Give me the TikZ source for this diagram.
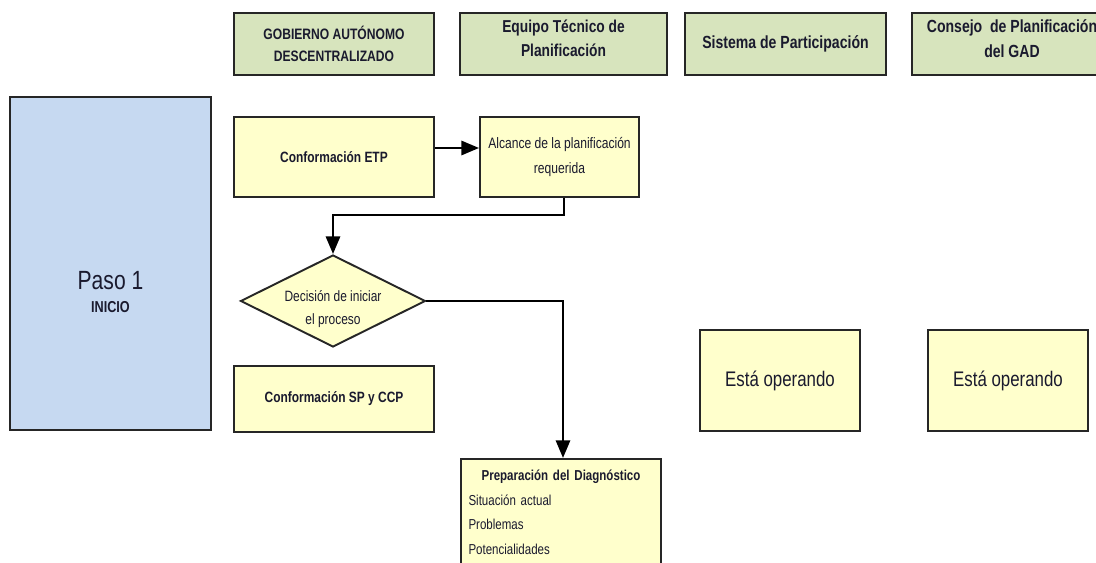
\documentclass[tikz,border=0pt]{standalone}
\usepackage{fontspec}
\setmainfont{Liberation Sans}[FakeStretch=0.8]
\usepackage{xcolor}
\usetikzlibrary{arrows.meta,shapes.geometric}
\definecolor{lanegreen}{HTML}{D7E4BD}
\definecolor{pasoblue}{HTML}{C6D9F1}
\definecolor{procyellow}{HTML}{FFFFCC}
\definecolor{inktext}{HTML}{1A1A2E}

\begin{document}
\begin{tikzpicture}[x=0.02cm,y=-0.02cm]
    \useasboundingbox (0,0) rectangle (1096,563);
    \clip (0,0) rectangle (1096,563);
    \begin{scope}[every node/.style={rectangle,draw=black!85,line width=1.1pt,
        fill=lanegreen,text=inktext,align=center,minimum height=1.24cm,inner sep=1pt}]
        \node[minimum width=4cm,font=\bfseries\fontsize{8.6}{12.5}\selectfont] (gad) at (334,44) {GOBIERNO AUTÓNOMO\\DESCENTRALIZADO};
        \node[minimum width=4.14cm,font=\bfseries\fontsize{9.8}{14}\selectfont] (etp) at (563.5,44) {Equipo Técnico de\\Planificación\rule[-6.5pt]{0pt}{6.5pt}};
        \node[minimum width=4.02cm,font=\bfseries\fontsize{10}{12}\selectfont] (sp) at (785.5,44) {Sistema de Participación};
        \node[minimum width=4cm,font=\bfseries\fontsize{10}{14}\selectfont] (ccp) at (1012,44) {Consejo \ de Planificación\\del GAD\rule[-6.5pt]{0pt}{6.5pt}};
    \end{scope}
    \node[draw=black!85,line width=1.1pt,fill=pasoblue,minimum width=4.02cm,minimum height=6.66cm] (paso) at (110.5,263.5) {};
    \node[text=inktext,align=center,font=\fontsize{9}{13}\selectfont] (pasotxt) at (110.5,292) {{\fontsize{15}{15}\selectfont Paso 1}\\\bfseries INICIO};
    \begin{scope}[every node/.style={rectangle,draw=black!85,line width=1.1pt,
        fill=procyellow,text=inktext,align=center,inner sep=1pt}]
        \node[minimum width=4cm,minimum height=1.6cm,font=\bfseries\fontsize{8.5}{10}\selectfont] (cetp) at (334,157) {Conformación ETP};
        \node[minimum width=3.18cm,minimum height=1.6cm,font=\fontsize{8.6}{14}\selectfont] (alc) at (559.5,157) {Alcance de la planificación\\requerida};
        \node[diamond,aspect=2,minimum width=3.7cm,minimum height=1.84cm,inner sep=-12pt,font=\fontsize{8.5}{13}\selectfont] (dec) at (333,301) {\rule{0pt}{15pt}Decisión de iniciar\\el proceso};
        \node[minimum width=4cm,minimum height=1.32cm,font=\bfseries\fontsize{8.5}{10}\selectfont] (csp) at (334,399) {Conformación SP y CCP};
        \node[minimum width=3.2cm,minimum height=2.02cm,font=\fontsize{12}{14}\selectfont] (op1) at (780,380.5) {Está operando};
        \node[minimum width=3.2cm,minimum height=2.02cm,font=\fontsize{12}{14}\selectfont] (op2) at (1008,380.5) {Está operando};
        \node[anchor=north,minimum width=4cm,text width=3.7cm,align=left,
            inner xsep=4pt,inner ysep=6pt,font=\fontsize{8.2}{14.2}\selectfont] (prep) at (561,458)
            {{\centering\bfseries Preparación del Diagnóstico\par}Situación actual\\Problemas\\Potencialidades\par\vspace*{12pt}};
    \end{scope}
    \begin{scope}[>={Triangle[length=10pt,width=8pt]},line width=1.5pt]
        \draw[->] ([yshift=0.18cm]cetp.east) -- ([yshift=0.18cm]alc.west);
        \draw[->] ([xshift=0.09cm]alc.south) -- ++(0,17) -| (dec.north);
        \draw[->] (dec.east) -| ([xshift=0.04cm]prep.north);
    \end{scope}
\end{tikzpicture}
\end{document}
